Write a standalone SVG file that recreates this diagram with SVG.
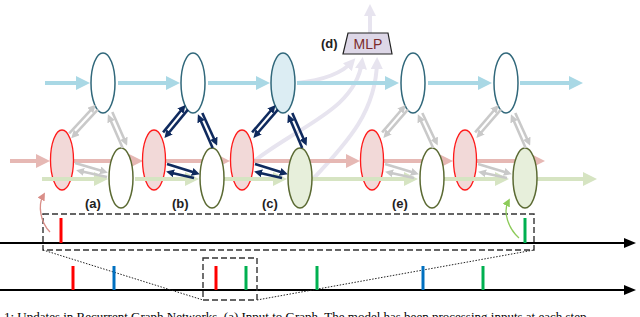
<svg xmlns="http://www.w3.org/2000/svg" width="640" height="317" viewBox="0 0 640 317">
<defs>
<style>
.lbl{font-family:"Liberation Sans",Arial,sans-serif;font-weight:bold;font-size:13px;fill:#222}
.cap{font-family:"Liberation Serif","Times New Roman",serif;font-size:13px;fill:#000}
.thick{stroke-width:4;fill:none}
.thin{stroke-width:2.6;fill:none}
.blue{stroke:#a9d8e5}
.pink{stroke:#e6b8b4}
.grn{stroke:#d6e4c2}
.gray{stroke:#c9c9c9}
.navy{stroke:#0f2a5e}
.lav{stroke:#e7e4ef;stroke-width:4;fill:none}
.nb{fill:#fff;stroke:#31687b;stroke-width:1.5}
.nr{fill:#f2d9d8;stroke:#ff1a1a;stroke-width:1.3}
.ng{fill:#fff;stroke:#5b6a33;stroke-width:1.5}
.tl{stroke:#000;stroke-width:2;fill:none}
.dash{stroke:#333;stroke-width:1.4;fill:none;stroke-dasharray:6,3}
.dot{stroke:#222;stroke-width:1;fill:none;stroke-dasharray:1.5,1.5}
.tick{stroke-width:3}
</style>
<marker id="hb" viewBox="0 0 14 14" markerWidth="14" markerHeight="14" refX="8" refY="7" orient="auto" markerUnits="userSpaceOnUse"><path d="M0,0L14,7L0,14z" fill="#a9d8e5"/></marker>
<marker id="hp" viewBox="0 0 14 14" markerWidth="14" markerHeight="14" refX="8" refY="7" orient="auto" markerUnits="userSpaceOnUse"><path d="M0,0L14,7L0,14z" fill="#e6b8b4"/></marker>
<marker id="hg" viewBox="0 0 14 14" markerWidth="14" markerHeight="14" refX="8" refY="7" orient="auto" markerUnits="userSpaceOnUse"><path d="M0,0L14,7L0,14z" fill="#d6e4c2"/></marker>
<marker id="hl" viewBox="0 0 12 12" markerWidth="12" markerHeight="12" refX="7" refY="6" orient="auto" markerUnits="userSpaceOnUse"><path d="M0,0L12,6L0,12z" fill="#e7e4ef"/></marker>
<marker id="hy" viewBox="0 0 8 8" markerWidth="8" markerHeight="8" refX="4" refY="4" orient="auto" markerUnits="userSpaceOnUse"><path d="M0,0L8,4L0,8z" fill="#c9c9c9"/></marker>
<marker id="hn" viewBox="0 0 8 8" markerWidth="8" markerHeight="8" refX="4" refY="4" orient="auto" markerUnits="userSpaceOnUse"><path d="M0,0L8,4L0,8z" fill="#0f2a5e"/></marker>
<marker id="hk" viewBox="0 0 12 10" markerWidth="12" markerHeight="10" refX="6" refY="5" orient="auto" markerUnits="userSpaceOnUse"><path d="M0,0L12,5L0,10z" fill="#000"/></marker>
<marker id="hr" viewBox="0 0 8 8" markerWidth="8" markerHeight="8" refX="4" refY="4" orient="auto" markerUnits="userSpaceOnUse"><path d="M0,0L8,4L0,8z" fill="#d98e88"/></marker>
<marker id="hgl" viewBox="0 0 8 8" markerWidth="8" markerHeight="8" refX="4" refY="4" orient="auto" markerUnits="userSpaceOnUse"><path d="M0,0L8,4L0,8z" fill="#8dcb5a"/></marker>
</defs>

<g id="mlp-inputs">
<path class="lav" d="M297,83 C325,80 343,72 352,62" marker-end="url(#hl)"/>
<path class="lav" d="M253,162 C300,125 355,110 362,62" marker-end="url(#hl)"/>
<path class="lav" d="M312,180 C350,140 376,110 377,62" marker-end="url(#hl)"/>
<path class="lav" d="M370,33 L370,9" marker-end="url(#hl)"/>
</g>

<g id="connectors-top">
<line class="thick blue" x1="45" y1="83" x2="84" y2="83" marker-end="url(#hb)"/>
<line class="thick blue" x1="118" y1="83" x2="174" y2="83" marker-end="url(#hb)"/>
<line class="thick blue" x1="208" y1="83" x2="264" y2="83" marker-end="url(#hb)"/>
<line class="thick blue" x1="297" y1="83" x2="393" y2="83" marker-end="url(#hb)"/>
<line class="thick blue" x1="428" y1="83" x2="486" y2="83" marker-end="url(#hb)"/>
<line class="thick blue" x1="520" y1="83" x2="577" y2="83" marker-end="url(#hb)"/>
<line class="thick pink" x1="10" y1="161" x2="44" y2="161" marker-end="url(#hp)"/>
<line class="thick pink" x1="73" y1="161" x2="137" y2="161" marker-end="url(#hp)"/>
<line class="thick pink" x1="166" y1="161" x2="224" y2="161" marker-end="url(#hp)"/>
<line class="thick pink" x1="253" y1="161" x2="354" y2="161" marker-end="url(#hp)"/>
<line class="thick pink" x1="384" y1="161" x2="447" y2="161" marker-end="url(#hp)"/>
<line class="thick pink" x1="477" y1="161" x2="539" y2="161" marker-end="url(#hp)"/>
</g>

<g id="node-r1"><ellipse class="nr" cx="62" cy="160" rx="11.5" ry="30"/></g>
<g id="node-r2"><ellipse class="nr" cx="154" cy="160" rx="11.5" ry="30"/></g>
<g id="node-r3"><ellipse class="nr" cx="242" cy="160" rx="11.5" ry="30"/></g>
<g id="node-r4"><ellipse class="nr" cx="372" cy="160" rx="11.5" ry="30"/></g>
<g id="node-r5"><ellipse class="nr" cx="465" cy="160" rx="11.5" ry="30"/></g>

<g id="connectors-green">
<line class="thick grn" x1="42" y1="179" x2="102" y2="179" marker-end="url(#hg)"/>
<line class="thick grn" x1="135" y1="179" x2="193" y2="179" marker-end="url(#hg)"/>
<line class="thick grn" x1="224" y1="179" x2="281" y2="179" marker-end="url(#hg)"/>
<line class="thick grn" x1="312" y1="179" x2="412" y2="179" marker-end="url(#hg)"/>
<line class="thick grn" x1="444" y1="179" x2="503" y2="179" marker-end="url(#hg)"/>
<line class="thick grn" x1="537" y1="179" x2="591" y2="179" marker-end="url(#hg)"/>
</g>

<g id="node-g1"><ellipse class="ng" cx="121" cy="178" rx="12" ry="30"/></g>
<g id="node-g2"><ellipse class="ng" cx="212" cy="178" rx="12" ry="30"/></g>
<g id="node-g3"><ellipse class="ng" cx="300" cy="178" rx="12" ry="30" style="fill:#e7efdb"/></g>
<g id="node-g4"><ellipse class="ng" cx="432" cy="178" rx="12" ry="30"/></g>
<g id="node-g5"><ellipse class="ng" cx="525" cy="178" rx="12" ry="30" style="fill:#e7efdb"/></g>

<g id="node-b1"><ellipse class="nb" cx="103" cy="83" rx="12" ry="30"/></g>
<g id="node-b2"><ellipse class="nb" cx="193" cy="83" rx="12" ry="30"/></g>
<g id="node-b3"><ellipse class="nb" cx="283" cy="83" rx="12" ry="30" style="fill:#dcedf3"/></g>
<g id="node-b4"><ellipse class="nb" cx="413" cy="83" rx="12" ry="30"/></g>
<g id="node-b5"><ellipse class="nb" cx="506" cy="83" rx="12" ry="30"/></g>

<g id="connectors-edges">
<line class="thin gray" x1="97.8" y1="109.7" x2="74" y2="135.4" marker-end="url(#hy)"/>
<line class="thin gray" x1="69.2" y1="133.3" x2="93" y2="107.6" marker-end="url(#hy)"/>
<line class="thin gray" x1="112.3" y1="112" x2="125.5" y2="142" marker-end="url(#hy)"/>
<line class="thin gray" x1="122.7" y1="148" x2="109.5" y2="118" marker-end="url(#hy)"/>
<line class="thin gray" x1="75" y1="163" x2="104" y2="171.5" marker-end="url(#hy)"/>
<line class="thin gray" x1="107" y1="177" x2="80" y2="171" marker-end="url(#hy)"/>
<line class="thin navy" x1="187.9" y1="109.6" x2="167" y2="135" marker-end="url(#hn)"/>
<line class="thin navy" x1="163.1" y1="132.4" x2="183" y2="108" marker-end="url(#hn)"/>
<line class="thin navy" x1="202.3" y1="113" x2="215.5" y2="142" marker-end="url(#hn)"/>
<line class="thin navy" x1="212.7" y1="148" x2="199.5" y2="118" marker-end="url(#hn)"/>
<line class="thin navy" x1="167" y1="164" x2="196" y2="173" marker-end="url(#hn)"/>
<line class="thin navy" x1="194" y1="178" x2="170" y2="172.5" marker-end="url(#hn)"/>
<line class="thin navy" x1="277.9" y1="109.6" x2="256" y2="135" marker-end="url(#hn)"/>
<line class="thin navy" x1="252.1" y1="132.4" x2="273" y2="108" marker-end="url(#hn)"/>
<line class="thin navy" x1="292.3" y1="113" x2="305" y2="142" marker-end="url(#hn)"/>
<line class="thin navy" x1="302.2" y1="148" x2="289.5" y2="118" marker-end="url(#hn)"/>
<line class="thin navy" x1="255" y1="164" x2="284" y2="173" marker-end="url(#hn)"/>
<line class="thin navy" x1="282" y1="178" x2="258" y2="172.5" marker-end="url(#hn)"/>
<line class="thin gray" x1="407.9" y1="109.6" x2="386" y2="135" marker-end="url(#hy)"/>
<line class="thin gray" x1="382.1" y1="132.4" x2="403" y2="108" marker-end="url(#hy)"/>
<line class="thin gray" x1="422.3" y1="113" x2="436" y2="142" marker-end="url(#hy)"/>
<line class="thin gray" x1="433.2" y1="148" x2="419.5" y2="118" marker-end="url(#hy)"/>
<line class="thin gray" x1="385" y1="164" x2="415" y2="173" marker-end="url(#hy)"/>
<line class="thin gray" x1="414" y1="178" x2="389" y2="172.5" marker-end="url(#hy)"/>
<line class="thin gray" x1="500.9" y1="109.6" x2="479" y2="135" marker-end="url(#hy)"/>
<line class="thin gray" x1="475.1" y1="132.4" x2="496" y2="108" marker-end="url(#hy)"/>
<line class="thin gray" x1="515.3" y1="113" x2="528.5" y2="142" marker-end="url(#hy)"/>
<line class="thin gray" x1="525.7" y1="148" x2="512.5" y2="118" marker-end="url(#hy)"/>
<line class="thin gray" x1="478" y1="164" x2="508" y2="173" marker-end="url(#hy)"/>
<line class="thin gray" x1="507" y1="178" x2="482" y2="172.5" marker-end="url(#hy)"/>
</g>

<g id="node-mlp">
<polygon points="348,33 388,33 392,54 343,54" fill="#ddd7e7" stroke="#222" stroke-width="1.2"/>
<text x="368" y="49" text-anchor="middle" font-family="Liberation Sans, Arial, sans-serif" font-size="14" fill="#7b2b2b">MLP</text>
<text class="lbl" x="321" y="48">(d)</text>
</g>

<g id="labels">
<text class="lbl" x="85" y="208">(a)</text>
<text class="lbl" x="172" y="208">(b)</text>
<text class="lbl" x="262" y="208">(c)</text>
<text class="lbl" x="392" y="208">(e)</text>
</g>

<g id="timelines">
<line class="tl" x1="0" y1="243" x2="630" y2="243" marker-end="url(#hk)"/>
<line class="tl" x1="0" y1="290" x2="630" y2="290" marker-end="url(#hk)"/>
<rect class="dash" x="43" y="214" width="491" height="36"/>
<rect class="dash" x="203" y="258" width="54" height="42"/>
<path class="dot" d="M43,250 L203,300 M257,300 L534,250"/>
<line class="tick" stroke="#ff0000" x1="61" y1="218" x2="61" y2="243"/>
<line class="tick" stroke="#00b050" x1="525" y1="218" x2="525" y2="243"/>
<line class="tick" stroke="#ff0000" x1="73" y1="266" x2="73" y2="290"/>
<line class="tick" stroke="#0070c0" x1="114" y1="266" x2="114" y2="290"/>
<line class="tick" stroke="#ff0000" x1="216" y1="266" x2="216" y2="290"/>
<line class="tick" stroke="#00b050" x1="246" y1="266" x2="246" y2="290"/>
<line class="tick" stroke="#00b050" x1="317" y1="266" x2="317" y2="290"/>
<line class="tick" stroke="#0070c0" x1="423" y1="266" x2="423" y2="290"/>
<line class="tick" stroke="#00b050" x1="483" y1="266" x2="483" y2="290"/>
<path d="M50,232 C40,222 38,205 43,196" stroke="#d98e88" stroke-width="1.3" fill="none" marker-end="url(#hr)"/>
<path d="M519,238 C508,228 503,212 508,202" stroke="#8dcb5a" stroke-width="1.3" fill="none" marker-end="url(#hgl)"/>
</g>

<text class="cap" x="4" y="321">1: Updates in Recurrent Graph Networks. (a) Input to Graph. The model has been processing inputs at each step</text>
</svg>
